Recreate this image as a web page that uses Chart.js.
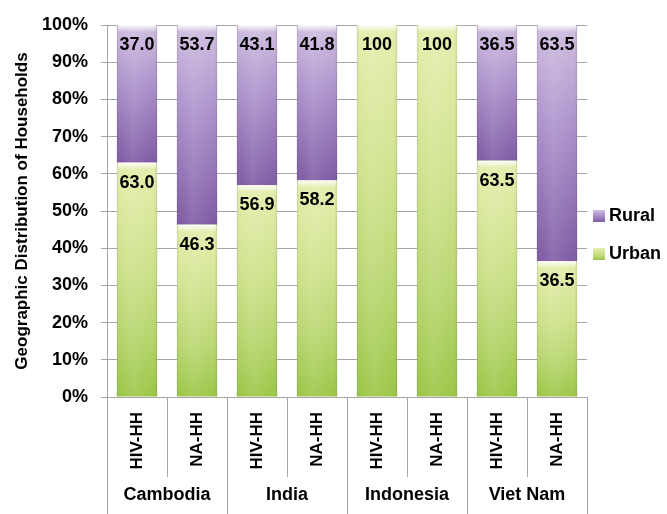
<!DOCTYPE html>
<html>
<head>
<meta charset="utf-8">
<script src="https://cdn.jsdelivr.net/npm/chart.js@4.4.1/dist/chart.umd.min.js"></script>
<style>
  html, body { margin: 0; padding: 0; background: #fff; }
</style>
</head>
<body>
<canvas id="chart" width="667" height="514"></canvas>
<script>
const households = ["HIV-HH", "NA-HH", "HIV-HH", "NA-HH", "HIV-HH", "NA-HH", "HIV-HH", "NA-HH"];
const countries = ["Cambodia", "India", "Indonesia", "Viet Nam"];
const urbanShare = [63.0, 46.3, 56.9, 58.2, 100, 100, 63.5, 36.5];
const ruralShare = [37.0, 53.7, 43.1, 41.8, 0, 0, 36.5, 63.5];

const FONT = "'Liberation Sans', Arial, sans-serif";
const GRID = "#a6a6a6";

const palettes = {
  Urban: [[0, "#e5eeae"], [0.4, "#d0e38e"], [0.7, "#bad772"], [1, "#9cc647"]],
  Rural: [[0, "#d1bfe1"], [0.4, "#ae95cd"], [1, "#805ba5"]]
};

function fillFor(ctx, name, top, bottom) {
  const g = ctx.createLinearGradient(0, top, 0, bottom);
  palettes[name].forEach(([s, c]) => g.addColorStop(s, c));
  return g;
}

// each stacked segment gets its own top-to-bottom gradient
function segmentGradient(c) {
  const chart = c.chart;
  const ds = chart.data.datasets[c.datasetIndex];
  const y = chart.scales.y;
  if (!chart.chartArea || !y || c.type !== "data") return ds.fallback;
  let start = 0;
  for (let k = 0; k < c.datasetIndex; k++) start += chart.data.datasets[k].data[c.dataIndex];
  const end = start + ds.data[c.dataIndex];
  return fillFor(chart.ctx, ds.label, y.getPixelForValue(end), y.getPixelForValue(start));
}

function fmt(v) {
  return v === 100 ? "100" : v.toFixed(1);
}

// shading, gloss and value labels on top of the bars
const segmentGloss = {
  id: "segmentGloss",
  afterDatasetsDraw(chart) {
    const ctx = chart.ctx;
    chart.data.datasets.forEach((ds, i) => {
      chart.getDatasetMeta(i).data.forEach((el, j) => {
        const top = Math.min(el.y, el.base);
        const bottom = Math.max(el.y, el.base);
        const h = bottom - top;
        if (h < 1) return;
        const left = el.x - el.width / 2;
        const w = el.width;

        const side = ctx.createLinearGradient(left, 0, left + w, 0);
        side.addColorStop(0, "rgba(0,0,0,0.12)");
        side.addColorStop(0.08, "rgba(255,255,255,0)");
        side.addColorStop(0.4, "rgba(255,255,255,0.1)");
        side.addColorStop(0.9, "rgba(255,255,255,0)");
        side.addColorStop(1, "rgba(0,0,0,0.12)");
        ctx.save();
        ctx.fillStyle = side;
        ctx.fillRect(left, top, w, h);

        const cap = ctx.createLinearGradient(0, top, 0, top + 7);
        cap.addColorStop(0, "rgba(255,255,255,0.9)");
        cap.addColorStop(1, "rgba(255,255,255,0)");
        ctx.fillStyle = cap;
        ctx.fillRect(left + 1, top, w - 2, Math.min(7, h));

        ctx.fillStyle = "#000";
        ctx.font = "bold 18px " + FONT;
        ctx.textAlign = "center";
        ctx.textBaseline = "middle";
        ctx.fillText(fmt(ds.data[j]), el.x, top + 20);
        ctx.restore();
      });
    });
  }
};

// category separators, country names and the legend
const groupAxis = {
  id: "groupAxis",
  afterDraw(chart) {
    const ctx = chart.ctx;
    const x = chart.scales.x;
    const area = chart.chartArea;
    const step = x.getPixelForValue(1) - x.getPixelForValue(0);
    const start = x.getPixelForValue(0) - step / 2;

    ctx.save();
    ctx.strokeStyle = GRID;
    ctx.lineWidth = 1;
    for (let b = 0; b <= households.length; b++) {
      const px = Math.round(start + b * step) + 0.5;
      ctx.beginPath();
      ctx.moveTo(px, area.bottom);
      ctx.lineTo(px, b % 2 === 0 ? chart.height : 477);
      ctx.stroke();
    }

    ctx.fillStyle = "#000";
    ctx.font = "bold 18px " + FONT;
    ctx.textAlign = "center";
    ctx.textBaseline = "middle";
    countries.forEach((c, g) => {
      ctx.fillText(c, start + (2 * g + 1) * step, 495);
    });

    // legend, Rural above Urban
    const items = chart.data.datasets.slice().reverse();
    items.forEach((ds, k) => {
      const cy = 216 + k * 38;
      ctx.fillStyle = fillFor(ctx, ds.label, cy - 6, cy + 6);
      ctx.fillRect(593, cy - 6, 12, 12);
      ctx.fillStyle = "#000";
      ctx.textAlign = "left";
      ctx.fillText(ds.label, 609, cy);
    });
    ctx.restore();
  }
};

new Chart(document.getElementById("chart"), {
  type: "bar",
  data: {
    labels: households,
    datasets: [
      { label: "Urban", data: urbanShare, fallback: "#c4dc7c", backgroundColor: segmentGradient },
      { label: "Rural", data: ruralShare, fallback: "#a385c2", backgroundColor: segmentGradient }
    ]
  },
  options: {
    responsive: false,
    animation: false,
    events: [],
    barPercentage: 0.67,
    categoryPercentage: 1,
    layout: { padding: { top: 25, right: 80, left: 0, bottom: 0 } },
    plugins: {
      legend: { display: false },
      tooltip: { enabled: false }
    },
    scales: {
      x: {
        stacked: true,
        grid: { drawOnChartArea: false, drawTicks: false },
        border: { color: GRID },
        ticks: {
          autoSkip: false,
          minRotation: 90,
          maxRotation: 90,
          padding: 15,
          color: "#000",
          font: { family: FONT, size: 17, weight: "bold" }
        },
        afterFit(scale) { scale.height = 117; }
      },
      y: {
        stacked: true,
        min: 0,
        max: 100,
        grid: { color: GRID, tickLength: 6 },
        border: { color: GRID },
        ticks: {
          stepSize: 10,
          padding: 13,
          color: "#000",
          font: { family: FONT, size: 18, weight: "bold" },
          callback: (v) => v + "%"
        },
        title: {
          display: true,
          text: "Geographic Distribution of Households",
          color: "#000",
          padding: { top: 12, bottom: 0 },
          font: { family: FONT, size: 17, weight: "bold" }
        },
        afterFit(scale) { scale.width = 107; }
      }
    }
  },
  plugins: [segmentGloss, groupAxis]
});
</script>
</body>
</html>
